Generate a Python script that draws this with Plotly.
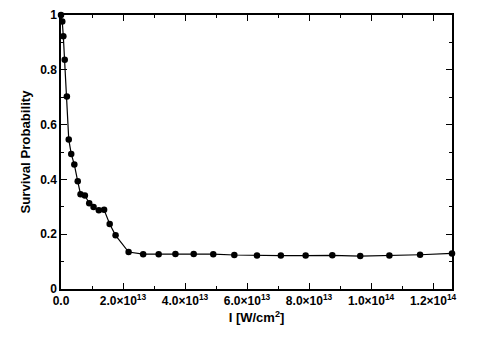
import plotly.graph_objects as go

# Intensity (W/cm^2) and survival probability
intensity = [0.0, 0.4e12, 0.75e12, 1.2e12, 1.9e12, 2.5e12, 3.3e12, 4.3e12, 5.4e12,
             6.3e12, 7.7e12, 9.1e12, 10.5e12, 12.2e12, 13.9e12, 15.7e12, 17.6e12,
             21.8e12, 26.5e12, 31.5e12, 36.9e12, 42.8e12, 49.1e12, 55.9e12,
             63.2e12, 70.9e12, 78.9e12, 87.5e12, 96.5e12, 105.9e12, 115.8e12, 126.1e12]
survival = [1.0, 0.976, 0.922, 0.837, 0.703, 0.546, 0.493, 0.454, 0.393,
            0.346, 0.341, 0.313, 0.299, 0.287, 0.289, 0.237, 0.196,
            0.135, 0.127, 0.127, 0.128, 0.128, 0.127, 0.124,
            0.122, 0.122, 0.122, 0.123, 0.120, 0.122, 0.125, 0.130]

x_ticks = [0, 2e13, 4e13, 6e13, 8e13, 1e14, 1.2e14]
x_ticktext = ["0.0", "2.0×10<sup>13</sup>", "4.0×10<sup>13</sup>", "6.0×10<sup>13</sup>",
              "8.0×10<sup>13</sup>", "1.0×10<sup>14</sup>", "1.2×10<sup>14</sup>"]
y_ticks = [0, 0.2, 0.4, 0.6, 0.8, 1.0]
y_ticktext = ["0", "0.2", "0.4", "0.6", "0.8", "1"]

fig = go.Figure(go.Scatter(
    x=intensity, y=survival, mode="lines+markers",
    line=dict(color="black", width=1.2),
    marker=dict(color="black", size=6.5),
    cliponaxis=False,
))

axis_style = dict(
    showline=True, linecolor="black", linewidth=1.5, mirror="allticks",
    ticks="inside", ticklen=6, tickwidth=1.2, tickcolor="black",
    showgrid=False, zeroline=False, automargin=False,
    tickfont=dict(family="Liberation Sans", size=12, color="black", weight="bold"),
)

fig.update_xaxes(
    range=[0, 1.261e14], tickvals=x_ticks, ticktext=x_ticktext,
    minor=dict(dtick=1e13, ticks="inside", ticklen=3, tickwidth=1, tickcolor="black"),
    title=dict(text="I [W/cm<sup>2</sup>]", standoff=6,
               font=dict(family="Liberation Sans", size=13, color="black", weight="bold")),
    **axis_style,
)
fig.update_yaxes(
    range=[0, 1.0], tickvals=y_ticks, ticktext=y_ticktext,
    minor=dict(dtick=0.1, ticks="inside", ticklen=3, tickwidth=1, tickcolor="black"),
    title=dict(text="Survival Probability", standoff=7,
               font=dict(family="Liberation Sans", size=13.2, color="black", weight="bold")),
    **axis_style,
)

# the page body adds an 8px margin, so the figure is drawn 8px smaller
fig.update_layout(
    width=471, height=331,
    margin=dict(l=53, r=27, t=7, b=50),
    plot_bgcolor="white", paper_bgcolor="white",
    showlegend=False,
)

fig.write_html("out.html")
